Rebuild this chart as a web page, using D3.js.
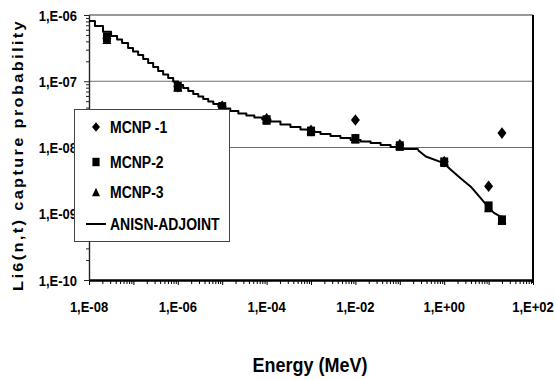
<!DOCTYPE html>
<html>
<head>
<meta charset="utf-8">
<script src="https://cdn.jsdelivr.net/npm/d3@7"></script>
<style>
  html, body { margin: 0; padding: 0; background: #fff; }
  svg { display: block; }
  text { font-family: "Liberation Sans", Arial, sans-serif; font-weight: bold; fill: #000; }
</style>
</head>
<body>
<svg id="chart" width="555" height="380"></svg>
<script>
// Monte Carlo estimates (energy in MeV, capture probability)
const mcnpEnergy = [2.53e-8, 1e-6, 1e-5, 1e-4, 1e-3, 1e-2, 1e-1, 1, 10, 20];
const mcnp1 = [4.4e-7, 8.3e-8, 4.2e-8, 2.7e-8, 1.8e-8, 2.6e-8, 1.1e-8, 6.1e-9, 2.6e-9, 1.65e-8];
const mcnp2 = [4.6e-7, 8.3e-8, 4.1e-8, 2.6e-8, 1.75e-8, 1.35e-8, 1.05e-8, 6.0e-9, 1.3e-9, 8.0e-10];
const mcnp3 = [4.3e-7, 8.2e-8, 4.3e-8, 2.75e-8, 1.85e-8, 1.38e-8, 1.1e-8, 6.3e-9, 1.25e-9, 8.2e-10];

// ANISN adjoint group values: lower group bound (MeV) and group value
const anisnEnergy = [1e-8, 1.36e-8, 2.07e-8, 3.14e-8, 4.29e-8, 5.56e-8, 7.6e-8, 9.8e-8, 1.28e-7,
  1.66e-7, 2.15e-7, 2.79e-7, 3.61e-7, 4.68e-7, 6.07e-7, 7.87e-7, 1.02e-6, 1.32e-6, 1.72e-6,
  2.23e-6, 2.89e-6, 3.74e-6, 4.85e-6, 6.3e-6, 8.2e-6, 1.06e-5, 1.52e-5, 2.31e-5, 3.5e-5,
  5.3e-5, 8.0e-5, 1.22e-4, 2.05e-4, 3.44e-4, 5.8e-4, 9.7e-4, 1.64e-3, 2.75e-3, 4.6e-3,
  7.8e-3, 1.31e-2, 2.2e-2, 3.7e-2, 6.2e-2, 9.4e-2, 0.254, 0.385, 0.98, 1.41, 2.37, 3.98,
  6.7, 9.6, 13.2, 19, 21];
const anisnValue = [8.1e-7, 6.8e-7, 5.6e-7, 4.8e-7, 4.27e-7, 3.78e-7, 3.18e-7, 2.81e-7, 2.49e-7,
  2.17e-7, 1.88e-7, 1.64e-7, 1.43e-7, 1.26e-7, 1.12e-7, 9.9e-8, 8.8e-8, 7.9e-8, 7.1e-8,
  6.4e-8, 5.9e-8, 5.4e-8, 4.94e-8, 4.54e-8, 4.16e-8, 3.88e-8, 3.56e-8, 3.26e-8, 3.04e-8,
  2.84e-8, 2.65e-8, 2.47e-8, 2.22e-8, 2.04e-8, 1.87e-8, 1.71e-8, 1.6e-8, 1.49e-8, 1.39e-8,
  1.3e-8, 1.23e-8, 1.17e-8, 1.09e-8, 1.02e-8, 9.5e-9, 9.2e-9, 7.3e-9, 5.8e-9, 4.6e-9, 3.4e-9,
  2.56e-9, 1.71e-9, 1.28e-9, 1.03e-9, 9.0e-10, 8.0e-10];
// above this energy the fine group structure is drawn as a continuous line
const anisnStepLimit = 0.254;

// Axis ticks
const xTickValues = [1e-8, 1e-6, 1e-4, 1e-2, 1e0, 1e2];
const xTickLabels = ["1,E-08", "1,E-06", "1,E-04", "1,E-02", "1,E+00", "1,E+02"];
const yTickValues = [1e-6, 1e-7, 1e-8, 1e-9, 1e-10];
const yTickLabels = ["1,E-06", "1,E-07", "1,E-08", "1,E-09", "1,E-10"];
const yGridValues = [1e-7, 1e-8];

const seriesNames = ["MCNP -1", "MCNP-2", "MCNP-3", "ANISN-ADJOINT"];

const svg = d3.select("#chart");
const plot = { left: 89, right: 533, top: 15, bottom: 280 };
const stretch = 1.17;

const x = d3.scaleLog().domain([1e-8, 1e2]).range([plot.left, plot.right]);
const y = d3.scaleLog().domain([1e-10, 1e-6]).range([plot.bottom, plot.top]);

// minor tick positions (2..9 within each decade)
function minorTicks(lo, hi) {
  const out = [];
  for (let e = lo; e < hi; e++) {
    for (let m = 2; m <= 9; m++) out.push(m * Math.pow(10, e));
  }
  return out;
}
const allDecadesX = d3.range(-8, 3).map(e => Math.pow(10, e));

// gridlines
svg.append("g").selectAll("line").data(yGridValues).join("line")
  .attr("x1", plot.left).attr("x2", plot.right)
  .attr("y1", d => y(d)).attr("y2", d => y(d))
  .attr("stroke", "#6e6e6e").attr("stroke-width", 1);

// frame: top and right
svg.append("line").attr("x1", plot.left).attr("x2", plot.right)
  .attr("y1", plot.top).attr("y2", plot.top).attr("stroke", "#333").attr("stroke-width", 1.2);
svg.append("line").attr("x1", plot.right).attr("x2", plot.right)
  .attr("y1", plot.top).attr("y2", plot.bottom + 3).attr("stroke", "#000").attr("stroke-width", 2);

// x axis (ticks only; labels drawn separately)
const xAxisMajor = d3.axisBottom(x).tickValues(allDecadesX).tickFormat("").tickSize(5).tickSizeOuter(0);
const xAxisMinor = d3.axisBottom(x).tickValues(minorTicks(-8, 2)).tickFormat("").tickSize(4).tickSizeOuter(0);
const gx = svg.append("g").attr("transform", `translate(0,${plot.bottom})`);
gx.append("g").call(xAxisMinor);
gx.append("g").call(xAxisMajor);
gx.selectAll(".domain").attr("stroke", "#000").attr("stroke-width", 2);
gx.selectAll(".tick line").attr("stroke", "#000").attr("stroke-width", 1);

// y axis
const yAxisMajor = d3.axisLeft(y).tickValues(yTickValues).tickFormat("").tickSize(5).tickSizeOuter(0);
const yAxisMinor = d3.axisLeft(y).tickValues(minorTicks(-10, -6)).tickFormat("").tickSize(3).tickSizeOuter(0);
const gy = svg.append("g").attr("transform", `translate(${plot.left},0)`);
gy.append("g").call(yAxisMinor);
gy.append("g").call(yAxisMajor);
gy.selectAll(".domain").attr("stroke", "#222").attr("stroke-width", 1.2);
gy.selectAll(".tick line").attr("stroke", "#222").attr("stroke-width", 1);

// tick labels
svg.append("g").selectAll("text").data(xTickValues).join("text")
  .attr("text-anchor", "middle")
  .attr("font-size", 13)
  .attr("transform", d => `translate(${x(d)},${plot.bottom + 32}) scale(1,${stretch})`)
  .text((d, i) => xTickLabels[i]);

svg.append("g").selectAll("text").data(yTickValues).join("text")
  .attr("text-anchor", "end")
  .attr("font-size", 13)
  .attr("transform", d => `translate(77,${y(d) + 5.5}) scale(1,${stretch})`)
  .text((d, i) => yTickLabels[i]);

// axis titles
svg.append("text")
  .attr("text-anchor", "middle")
  .attr("font-size", 18)
  .attr("transform", `translate(310,372) scale(1,${stretch})`)
  .text("Energy (MeV)");

svg.append("text")
  .attr("text-anchor", "middle")
  .attr("font-size", 14)
  .attr("letter-spacing", 2)
  .attr("transform", `translate(23,155) rotate(-90) scale(${stretch},1)`)
  .text("Li6(n,t) capture probability");

// ANISN adjoint curve: group-wise constant at low energy, continuous above
const anisnPoints = anisnEnergy.map((e, i) => ({ e, v: anisnValue[i] }));
const stepPart = anisnPoints.filter(d => d.e <= anisnStepLimit);
const smoothPart = anisnPoints.filter(d => d.e >= anisnStepLimit);
const stepLine = d3.line().x(d => x(d.e)).y(d => y(d.v)).curve(d3.curveStepAfter);
const smoothLine = d3.line().x(d => x(d.e)).y(d => y(d.v));
[[stepPart, stepLine], [smoothPart, smoothLine]].forEach(([pts, gen]) => {
  svg.append("path")
    .datum(pts)
    .attr("d", gen)
    .attr("fill", "none")
    .attr("stroke", "#000")
    .attr("stroke-width", 2)
    .attr("stroke-linejoin", "round");
});

// marker shapes
const shapes = {
  diamond: (w, h) => `M0,${-h}L${w},0L0,${h}L${-w},0Z`,
  square: (w, h) => `M${-w},${-h}H${w}V${h}H${-w}Z`,
  triangle: (w, h) => `M0,${-h}L${w},${h}H${-w}Z`
};

const series = [
  { values: mcnp1, shape: shapes.diamond(4.5, 5.8) },
  { values: mcnp2, shape: shapes.square(4, 4.8) },
  { values: mcnp3, shape: shapes.triangle(4.5, 4.8) }
];

series.forEach(s => {
  svg.append("g").selectAll("path").data(s.values).join("path")
    .attr("d", s.shape)
    .attr("transform", (d, i) => `translate(${x(mcnpEnergy[i])},${y(d)})`)
    .attr("fill", "#000");
});

// legend
const legend = svg.append("g");
legend.append("rect")
  .attr("x", 74.5).attr("y", 109.5).attr("width", 155).attr("height", 132)
  .attr("fill", "#fff").attr("stroke", "#444").attr("stroke-width", 1);
const legendY = [127, 162, 192, 224];
const legendShapes = [shapes.diamond(4, 4.8), shapes.square(3.6, 4.2), shapes.triangle(4, 4.2)];
legendShapes.forEach((p, i) => {
  legend.append("path").attr("d", p).attr("fill", "#000")
    .attr("transform", `translate(96,${legendY[i]})`);
});
legend.append("line").attr("x1", 86).attr("x2", 106)
  .attr("y1", legendY[3]).attr("y2", legendY[3])
  .attr("stroke", "#000").attr("stroke-width", 2);
legend.selectAll("text.lbl").data(seriesNames).join("text")
  .attr("class", "lbl")
  .attr("font-size", 14)
  .attr("transform", (d, i) => `translate(110,${legendY[i] + 6}) scale(1,${stretch})`)
  .text(d => d);
</script>
</body>
</html>
